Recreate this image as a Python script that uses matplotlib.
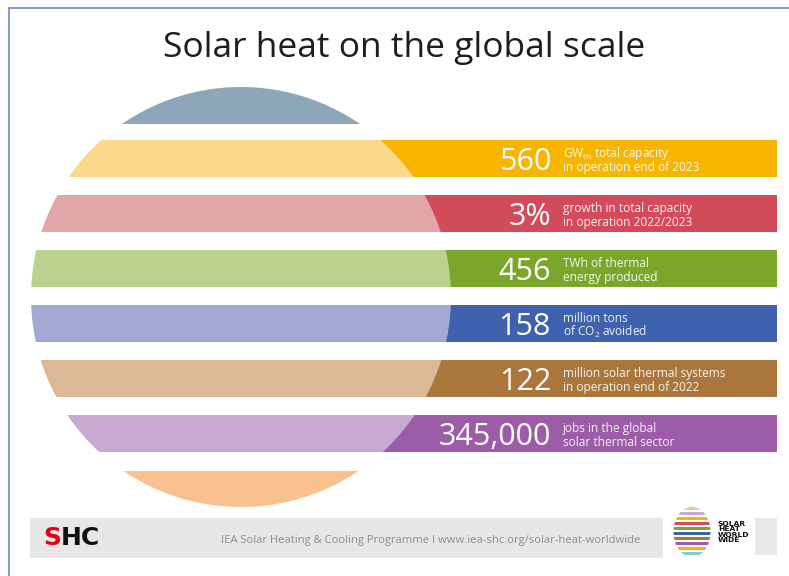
import matplotlib.pyplot as plt
from matplotlib.patches import Circle, Ellipse, Rectangle

plt.rcParams['font.family'] = ['Open Sans', 'DejaVu Sans']
plt.rcParams['mathtext.fontset'] = 'custom'
plt.rcParams['mathtext.rm'] = 'Open Sans'
plt.rcParams['mathtext.it'] = 'Open Sans:italic'

# figures shown in the infographic
big_numbers = ["560", "3%", "456", "158", "122", "345,000"]
line_one = ["GW$_{\\rm th}$ total capacity", "growth in total capacity", "TWh of thermal",
            "million tons", "million solar thermal systems", "jobs in the global"]
line_two = ["in operation end of 2023", "in operation 2022/2023", "energy produced",
            "of CO$_2$ avoided", "in operation end of 2022", "solar thermal sector"]

title = "Solar heat on the global scale"
footer = "IEA Solar Heating & Cooling Programme I www.iea-shc.org/solar-heat-worldwide"

# colours: light tone inside the sun, strong tone on the right
light_cols = ["#fbd88a", "#e3a6a8", "#bdd18f", "#a2aad4", "#dcb994", "#c7a9d3"]
dark_cols = ["#f8b500", "#d14b5b", "#7ba62b", "#3e62ae", "#aa763c", "#9c5ca8"]
top_cap = "#8ea7b8"
bottom_cap = "#f8c18f"

W, H = 789, 576
fig = plt.figure(figsize=(W / 100, H / 100), dpi=100)
ax = fig.add_axes([0, 0, 1, 1])
ax.set_xlim(0, W)
ax.set_ylim(H, 0)
ax.axis('off')

cx, cy, r = 241, 297, 210
sun = Circle((cx, cy), r, transform=ax.transData)

bar_top0, step, bar_h = 140, 55, 37
right = 777

# caps of the sun
for y0, y1, c in [(80, 124, top_cap), (471, 515, bottom_cap)]:
    p = Rectangle((0, y0), W, y1 - y0, color=c, lw=0)
    ax.add_patch(p)
    p.set_clip_path(sun)

for i in range(len(big_numbers)):
    y0 = bar_top0 + i * step
    ax.add_patch(Rectangle((cx, y0), right - cx, bar_h, color=dark_cols[i], lw=0))
    p = Rectangle((0, y0), W, bar_h, color=light_cols[i], lw=0)
    ax.add_patch(p)
    p.set_clip_path(sun)
    mid = y0 + bar_h / 2
    ax.text(551, mid + 11.5, big_numbers[i], ha='right', va='baseline',
            fontsize=22, fontweight='medium', color='white')
    ax.text(563, mid - 1.5, line_one[i], ha='left', va='baseline',
            fontsize=8.6, fontweight='medium', color='white', alpha=0.9)
    ax.text(563, mid + 12.5, line_two[i], ha='left', va='baseline',
            fontsize=8.6, fontweight='medium', color='white', alpha=0.9)

ax.text(404, 57, title, ha='center', va='baseline', fontsize=25.5,
        fontweight='medium', color='#1e1e1e')

# footer band
ax.add_patch(Rectangle((30, 518), 633, 40, color='#e7e7e7', lw=0))
ax.add_patch(Rectangle((755, 518), 22, 37, color='#e9e9e9', lw=0))
ax.text(43, 538, "S", ha='left', va='center', fontsize=18, fontweight='heavy',
        color='#e2001a', family='DejaVu Sans')
ax.text(61, 538, "HC", ha='left', va='center', fontsize=18, fontweight='heavy',
        color='#111111', family='DejaVu Sans')
ax.text(431, 540, footer, ha='center', va='center', fontsize=8.1, color='#8c8c8c')

# small striped globe logo
globe = Ellipse((692, 532), 37, 50, transform=ax.transData)
logo_cols = ["#f8c18f", "#c7a9d3", "#f8b500", "#d14b5b", "#7ba62b", "#3e62ae",
             "#aa763c", "#9c5ca8", "#f8b500", "#8ec6e0"]
for k, c in enumerate(logo_cols):
    p = Rectangle((670, 507 + k * 5), 45, 3.4, color=c, lw=0)
    ax.add_patch(p)
    p.set_clip_path(globe)
ax.text(718, 532, "SOLAR\nHEAT\nWORLD\nWIDE", ha='left', va='center', fontsize=5.4,
        fontweight='bold', color='#111111', linespacing=0.85, family='DejaVu Sans')

# frame lines of the screenshot
ax.plot([9, W], [8, 8], color='#7088cc', lw=1.2)
ax.plot([9, 9], [8, H], color='#7088cc', lw=1.2)

fig.savefig("out.png", dpi=100)
